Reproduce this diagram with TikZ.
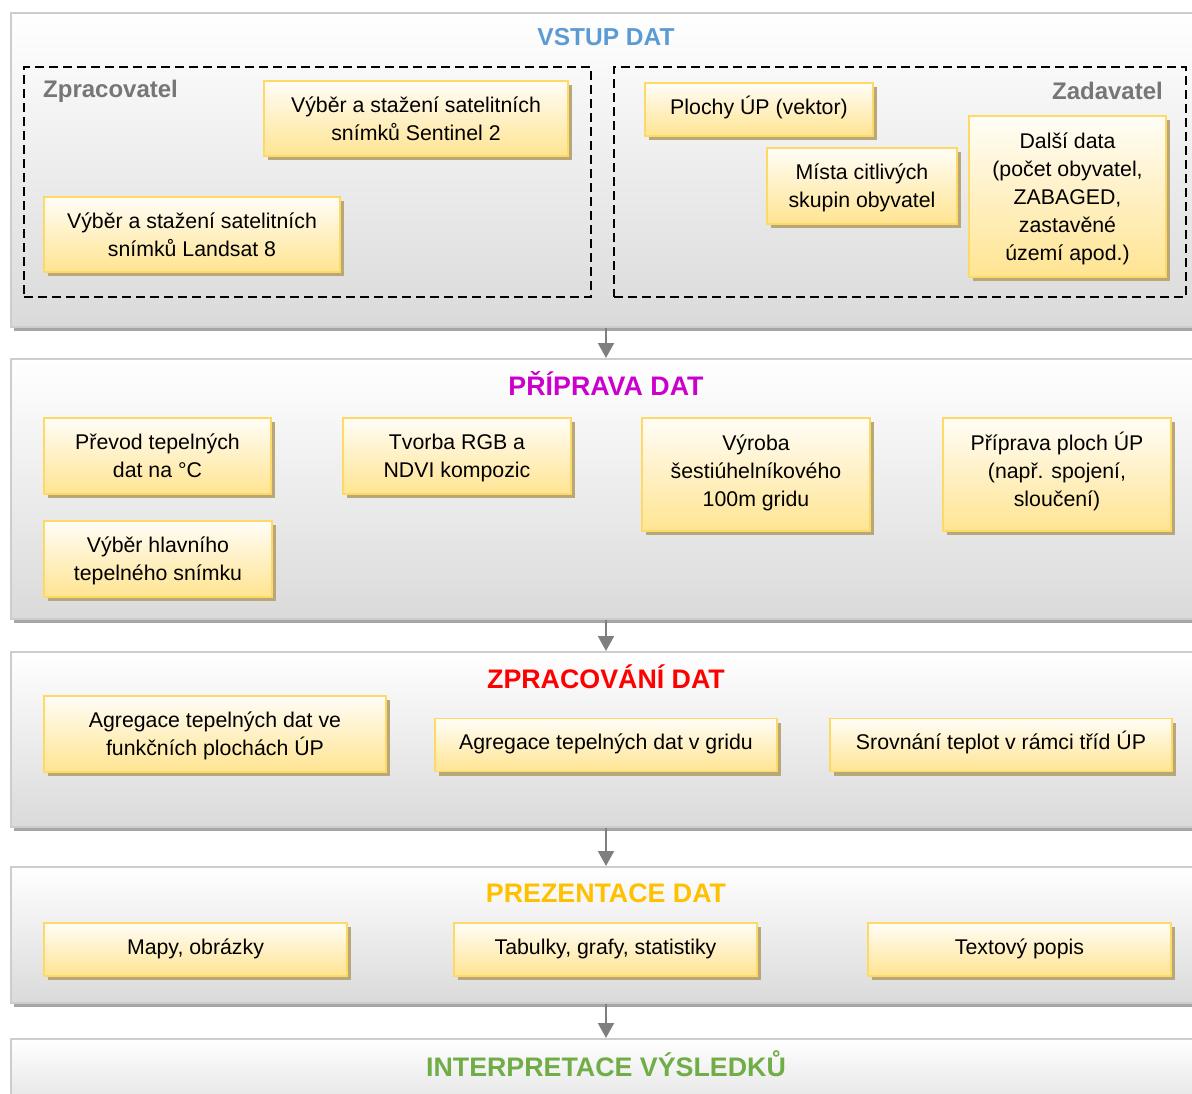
\documentclass[tikz,border=0pt]{standalone}
\usepackage{fontspec}
\setmainfont{Liberation Sans}
\usetikzlibrary{shadows,arrows.meta,calc}
\definecolor{panelbd}{RGB}{205,205,205}
\definecolor{panelsh}{RGB}{166,166,166}
\definecolor{panelbot}{RGB}{218,218,218}
\definecolor{boxtop}{RGB}{255,253,247}
\definecolor{boxbot}{RGB}{255,228,145}
\definecolor{boxbd}{RGB}{255,217,102}
\definecolor{boxsh}{RGB}{184,167,120}
\definecolor{hblue}{RGB}{91,155,213}
\definecolor{hmag}{RGB}{204,0,204}
\definecolor{hred}{RGB}{255,0,0}
\definecolor{hyel}{RGB}{255,192,0}
\definecolor{hgreen}{RGB}{112,173,71}
\definecolor{lblgray}{RGB}{118,118,118}
\definecolor{arrgray}{RGB}{127,127,127}
\begin{document}
\begin{tikzpicture}[x=1pt,y=-1pt,
  panel/.style={draw=panelbd, line width=2pt, top color=white, bottom color=panelbot,
    drop shadow={shadow xshift=3pt, shadow yshift=-4pt, fill=panelsh, opacity=1},
    minimum width=1200pt, inner sep=0pt, anchor=north west},
  ybox/.style={draw=boxbd, line width=1.5pt, top color=boxtop, bottom color=boxbot,
    drop shadow={shadow xshift=4pt, shadow yshift=-4pt, fill=boxsh, opacity=1},
    inner sep=0pt, align=center, font=\fontsize{21.3}{28}\selectfont},
  one/.style={text height=15.3pt, text depth=6pt},
  two/.style={text height=43.3pt, text depth=0pt},
  three/.style={text height=71.3pt, text depth=8pt},
  five/.style={text height=127.3pt, text depth=0pt},
  hdr/.style={font=\bfseries\fontsize{26.8}{30}\selectfont, inner sep=0pt, anchor=base},
  lbl/.style={font=\bfseries\fontsize{24}{28}\selectfont, text=lblgray, inner sep=0pt},
  dbox/.style={draw=black, line width=2.4pt, dash pattern=on 9pt off 5pt, inner sep=0pt, anchor=north west},
  arr/.style={draw=arrgray, line width=2pt, -{Triangle[width=16pt,length=15pt]}}
]
\useasboundingbox (0,0) rectangle (1192,1094);
\fill[white] (0,0) rectangle (1192,1094);

% panels
\node[panel, minimum height=314pt] (p1) at (10,12) {};
\node[panel, minimum height=260pt] (p2) at (10,358) {};
\node[panel, minimum height=175pt] (p3) at (10,651) {};
\node[panel, minimum height=136pt] (p4) at (10,866) {};
\node[panel, minimum height=90pt] (p5) at (10,1038) {};

% headers
\node[hdr, text=hblue, font=\bfseries\fontsize{24.5}{30}\selectfont] (h1) at (606,46) {VSTUP DAT};
\node[hdr, text=hmag] (h2) at (606,395.5) {PŘÍPRAVA DAT};
\node[hdr, text=hred] (h3) at (606,688) {ZPRACOVÁNÍ DAT};
\node[hdr, text=hyel] (h4) at (606,902.5) {PREZENTACE DAT};
\node[hdr, text=hgreen] (h5) at (606,1076) {INTERPRETACE VÝSLEDKŮ};

% dashed groups
\node[dbox, minimum width=567pt, minimum height=230pt] (dz) at (23,66) {};
\node[dbox, minimum width=572pt, minimum height=230pt] (dd) at (613,66) {};
\node[lbl, anchor=west] (lz) at (43,91.5) {Zpracovatel};
\node[lbl, anchor=east] (ld) at (1163,91) {Zadavatel};

% panel 1 boxes
\node[ybox, two, minimum width=304pt, minimum height=75pt] (s2) at (416,118.5) {Výběr a stažení satelitních\\snímků Sentinel 2};
\node[ybox, two, minimum width=296pt, minimum height=75pt] (l8) at (192,234.5) {Výběr a stažení satelitních\\snímků Landsat 8};
\node[ybox, one, minimum width=228pt, minimum height=53pt] (pu) at (759,109.5) {Plochy ÚP (vektor)};
\node[ybox, two, minimum width=190pt, minimum height=76pt] (mc) at (862,186) {Místa citlivých\\skupin obyvatel};
\node[ybox, five, minimum width=197pt, minimum height=161pt] (dd2) at (1067.5,196.5) {Další data\\(počet obyvatel,\\ZABAGED,\\zastavěné\\území apod.)};

% panel 2 boxes
\node[ybox, two, minimum width=227pt, minimum height=76pt] (pt) at (157.5,456) {Převod tepelných\\dat na °C};
\node[ybox, two, minimum width=228pt, minimum height=76pt] (vh) at (158,559) {Výběr hlavního\\tepelného snímku};
\node[ybox, two, minimum width=228pt, minimum height=76pt] (tr) at (457,456) {Tvorba RGB a\\NDVI kompozic};
\node[ybox, three, minimum width=228pt, minimum height=113pt] (vy) at (756,474.5) {Výroba\\šestiúhelníkového\\100m gridu};
\node[ybox, three, minimum width=228pt, minimum height=113pt] (pp) at (1057,474.5) {Příprava ploch ÚP\\(např. spojení,\\sloučení)};

% panel 3 boxes
\node[ybox, two, minimum width=342pt, minimum height=76pt] (a1) at (215,734) {Agregace tepelných dat ve\\funkčních plochách ÚP};
\node[ybox, one, minimum width=342pt, minimum height=53pt] (a2) at (606,745) {Agregace tepelných dat v gridu};
\node[ybox, one, minimum width=342pt, minimum height=53pt] (sr) at (1001,745) {Srovnání teplot v rámci tříd ÚP};

% panel 4 boxes
\node[ybox, one, minimum width=303pt, minimum height=53pt] (mp) at (195.5,949.5) {Mapy, obrázky};
\node[ybox, one, minimum width=303pt, minimum height=53pt] (tb) at (605.5,949.5) {Tabulky, grafy, statistiky};
\node[ybox, one, minimum width=303pt, minimum height=53pt] (tp) at (1019.5,949.5) {Textový popis};

% arrows
\draw[arr] (h1 |- p1.south) -- (h2 |- p2.north);
\draw[arr] (h2 |- p2.south) -- (h3 |- p3.north);
\draw[arr] (h3 |- p3.south) -- (h4 |- p4.north);
\draw[arr] (h4 |- p4.south) -- (h5 |- p5.north);
\end{tikzpicture}
\end{document}
